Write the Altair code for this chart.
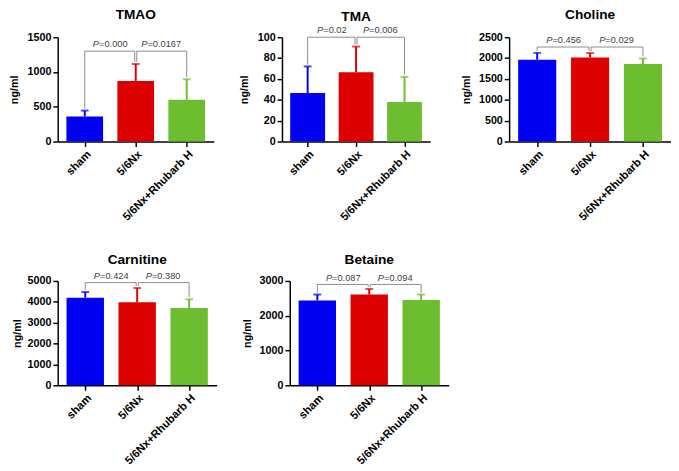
import json
import altair as alt
import pandas as pd

# ---------------- data ----------------
groups = ["sham", "5/6Nx", "5/6Nx+Rhubarb H"]
colors = ["#0000F2", "#DC0000", "#6CBE30"]

titles = ["TMAO", "TMA", "Choline", "Carnitine", "Betaine"]

tmao_mean = [360, 870, 600]
tmao_top = [445, 1115, 895]
tma_mean = [46.5, 66.5, 38]
tma_top = [72, 91, 62]
choline_mean = [1960, 2015, 1860]
choline_top = [2125, 2120, 1990]
carnitine_mean = [4200, 3975, 3700]
carnitine_top = [4470, 4660, 4120]
betaine_mean = [2440, 2610, 2450]
betaine_top = [2610, 2770, 2610]

y_max = [1500, 100, 2500, 5000, 3000]
y_step = [500, 20, 500, 1000, 1000]
bracket_level = [1300, 100, 2265, 4920, 2900]

p_values = [
    ["0.000", "0.0167"],
    ["0.02", "0.006"],
    ["0.456", "0.029"],
    ["0.424", "0.380"],
    ["0.087", "0.094"],
]

# title offsets (px) compensating for the marks above each plot
title_offsets = [9.5, 2, 9.5, 3.7, 5.5]
y_title_pad = [8, 8, 7, 5, 7]

FONT = "Liberation Sans"
XMIN, XMAX = -0.53, 2.53
HALF = 0.36
P_SIZE = 9.5


def text_width(s, size):
    w = {".": 0.278, "=": 0.584}
    return sum(w.get(c, 0.556) for c in s) * size


def panel(idx, means, tops, width, height):
    ymax = y_max[idx]
    B = bracket_level[idx]
    bars = pd.DataFrame({
        "i": [0, 1, 2],
        "group": groups,
        "mean": means,
        "top": tops,
    })
    bars["lo"] = bars["i"] - HALF
    bars["hi"] = bars["i"] + HALF

    lows = [min(t + 0.02 * ymax, B) for t in tops]
    d = 0.02
    br_rows = []
    for bid, (a, b) in enumerate([(0, 1), (1, 2)]):
        xa = a + (d if a == 1 else 0)
        xb = b - (d if b == 1 else 0)
        pts = [(xa, lows[a]), (xa, B), (xb, B), (xb, lows[b])]
        for k, (x, y) in enumerate(pts):
            br_rows.append({"bid": bid, "k": k, "x": x, "y": y})
    br = pd.DataFrame(br_rows)

    ppu = width / (XMAX - XMIN)
    pw = 0.667 * P_SIZE
    lab_rows = []
    for c, p in zip([0.5, 1.5], p_values[idx]):
        rest = "=" + p
        rw = text_width(rest, P_SIZE)
        anchor = c + ((pw - rw) / 2) / ppu
        lab_rows.append({"x": anchor, "y": B, "rest": rest, "P": "P"})
    labs = pd.DataFrame(lab_rows)

    xscale = alt.Scale(domain=[XMIN, XMAX], nice=False, zero=False)
    yscale = alt.Scale(domain=[0, ymax], nice=False)
    xaxis = alt.Axis(
        values=[0, 1, 2],
        labelExpr=json.dumps(groups) + "[datum.value]",
        labelAngle=315,
        labelAlign="right",
        labelBaseline="top",
        labelOverlap=False,
        labelFontSize=11.5,
        title=None,
        labelPadding=2,
        domain=True,
        domainColor="black",
        domainWidth=1.5,
    )
    yaxis = alt.Axis(
        values=list(range(0, ymax + 1, y_step[idx])),
        title="ng/ml",
        titlePadding=y_title_pad[idx],
        format="d",
        domain=True,
        domainColor="black",
        domainWidth=1.5,
        labelOverlap=False,
    )
    cscale = alt.Scale(domain=groups, range=colors)

    bar = alt.Chart(bars).mark_bar().encode(
        x=alt.X("lo:Q", scale=xscale, axis=xaxis),
        x2="hi:Q",
        y=alt.Y("mean:Q", scale=yscale, axis=yaxis),
        y2=alt.datum(0),
        color=alt.Color("group:N", scale=cscale, legend=None),
    )
    err = alt.Chart(bars).mark_rule(strokeWidth=2).encode(
        x=alt.X("i:Q", scale=xscale, axis=xaxis),
        y=alt.Y("mean:Q", scale=yscale, axis=yaxis),
        y2="top:Q",
        color=alt.Color("group:N", scale=cscale, legend=None),
    )
    cap = alt.Chart(bars).mark_tick(orient="horizontal", size=8, thickness=2).encode(
        x=alt.X("i:Q", scale=xscale, axis=xaxis),
        y=alt.Y("top:Q", scale=yscale, axis=yaxis),
        color=alt.Color("group:N", scale=cscale, legend=None),
    )
    line = alt.Chart(br).mark_line(color="#8a8a8a", strokeWidth=1).encode(
        x=alt.X("x:Q", scale=xscale, axis=xaxis),
        y=alt.Y("y:Q", scale=yscale, axis=yaxis),
        detail="bid:N",
        order="k:Q",
    )
    ptxt = alt.Chart(labs).mark_text(
        align="right", baseline="alphabetic", dy=-4, font=FONT,
        fontSize=P_SIZE, fontStyle="italic", color="#444444",
    ).encode(
        x=alt.X("x:Q", scale=xscale, axis=xaxis),
        y=alt.Y("y:Q", scale=yscale, axis=yaxis),
        text="P:N",
    )
    rtxt = alt.Chart(labs).mark_text(
        align="left", baseline="alphabetic", dy=-4, font=FONT,
        fontSize=P_SIZE, color="#444444",
    ).encode(
        x=alt.X("x:Q", scale=xscale, axis=xaxis),
        y=alt.Y("y:Q", scale=yscale, axis=yaxis),
        text="rest:N",
    )
    return alt.layer(line, bar, err, cap, ptxt, rtxt).properties(
        width=width,
        height=height,
        title=alt.TitleParams(titles[idx], offset=title_offsets[idx], frame="group"),
    )


p1 = panel(0, tmao_mean, tmao_top, 160, 107)
p2 = panel(1, tma_mean, tma_top, 152, 107)
p3 = panel(2, choline_mean, choline_top, 166, 107)
p4 = panel(3, carnitine_mean, carnitine_top, 163, 107)
p5 = panel(4, betaine_mean, betaine_top, 163, 107)

row1 = alt.hconcat(alt.hconcat(p1, p2, spacing=25), p3, spacing=31)
row2 = alt.hconcat(p4, p5, spacing=25)

chart = alt.vconcat(row1, row2, spacing=31).properties(
    padding={"top": -6, "left": 0, "right": 0, "bottom": 0}
).configure_axis(
    labelFont=FONT,
    labelFontWeight="bold",
    labelFontSize=11,
    labelColor="black",
    titleFont=FONT,
    titleFontWeight="bold",
    titleFontSize=11,
    titleColor="black",
    domainColor="black",
    domainWidth=1.5,
    tickColor="black",
    tickWidth=1.5,
    tickSize=5,
    labelPadding=2,
    grid=False,
).configure_view(stroke=None).configure_title(
    font=FONT, fontSize=14, fontWeight="bold", anchor="middle", color="black"
).configure_concat(spacing=18)

chart.save("out.html", embed_options={"renderer": "svg", "actions": False})
